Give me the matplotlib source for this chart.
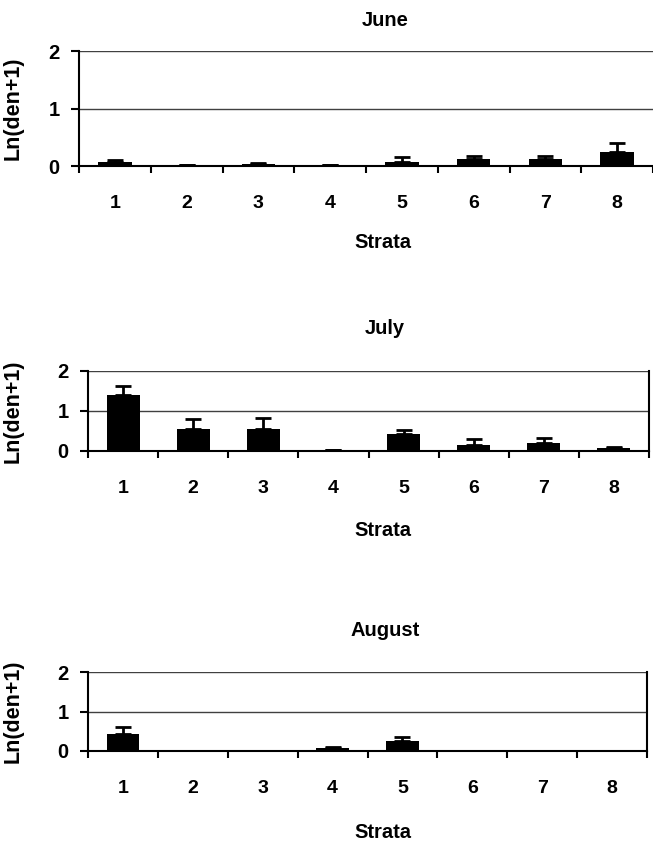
import numpy as np
import matplotlib
matplotlib.use('Agg')
import matplotlib.pyplot as plt
from matplotlib.ticker import FixedLocator

plt.rcParams['font.family'] = ['Liberation Sans', 'DejaVu Sans']
plt.rcParams['font.weight'] = 'bold'

strata = [1, 2, 3, 4, 5, 6, 7, 8]
months = ['June', 'July', 'August']

june_mean = [0.07, 0.01, 0.04, 0.01, 0.07, 0.12, 0.12, 0.24]
june_err = [0.03, 0.0, 0.02, 0.0, 0.08, 0.06, 0.06, 0.16]
july_mean = [1.40, 0.55, 0.55, 0.02, 0.43, 0.15, 0.20, 0.08]
july_err = [0.22, 0.24, 0.28, 0.0, 0.10, 0.15, 0.13, 0.03]
aug_mean = [0.42, 0.01, 0.01, 0.07, 0.25, 0.01, 0.01, 0.01]
aug_err = [0.18, 0.0, 0.0, 0.03, 0.11, 0.0, 0.0, 0.0]

means = [june_mean, july_mean, aug_mean]
errs = [june_err, july_err, aug_err]

W, H = 653, 849
fig = plt.figure(figsize=(W/100, H/100), dpi=100)

# pixel boxes: left, right, top, bottom ; title y, strata y
boxes = [(79, 653, 51, 166, 20, 243),
         (88, 649, 371, 451, 328, 530),
         (88, 647, 672, 751, 630, 833)]

for i in range(3):
    l, r, t, b, ty, sy = boxes[i]
    ax = fig.add_axes([l/W, 1-b/H, (r-l)/W, (b-t)/H])
    x = np.array(strata)
    ax.bar(x, means[i], width=0.47, color='black', zorder=3)
    lower = np.zeros(len(x))
    ax.errorbar(x, means[i], yerr=[lower, errs[i]], fmt='none', ecolor='black',
                elinewidth=2, capsize=6, capthick=2, zorder=4)
    ax.set_xlim(0.5, 8.5)
    ax.set_ylim(0, 2)
    ax.set_yticks([0, 1, 2])
    ax.set_xticks(x)
    ax.set_xticklabels([str(s) for s in strata])
    ax.xaxis.set_minor_locator(FixedLocator(np.arange(0.5, 9.0, 1.0)))
    ax.tick_params(axis='x', which='major', length=0, pad=21, labelsize=14)
    ax.tick_params(axis='x', which='minor', length=5, width=1.5, direction='out')
    ax.tick_params(axis='y', length=6, width=1.5, pad=8, labelsize=14.5)
    ax.grid(axis='y', color='0.25', lw=1, zorder=0)
    ax.spines['top'].set_visible(False)
    if i == 0:
        ax.spines['right'].set_visible(False)
    else:
        ax.spines['right'].set_linewidth(1.5)
    ax.spines['left'].set_linewidth(1.5)
    ax.spines['bottom'].set_linewidth(1.5)
    ax.set_ylabel('Ln(den+1)', fontsize=15.5, fontweight='bold')
    ax.yaxis.set_label_coords((24 - l)/(r - l), 0.5)
    fig.text(385/W, 1-ty/H, months[i], ha='center', va='center', fontsize=14.5, fontweight='bold')
    fig.text(383/W, 1-sy/H, 'Strata', ha='center', va='center', fontsize=14.5, fontweight='bold')

fig.savefig('out.png', dpi=100)
